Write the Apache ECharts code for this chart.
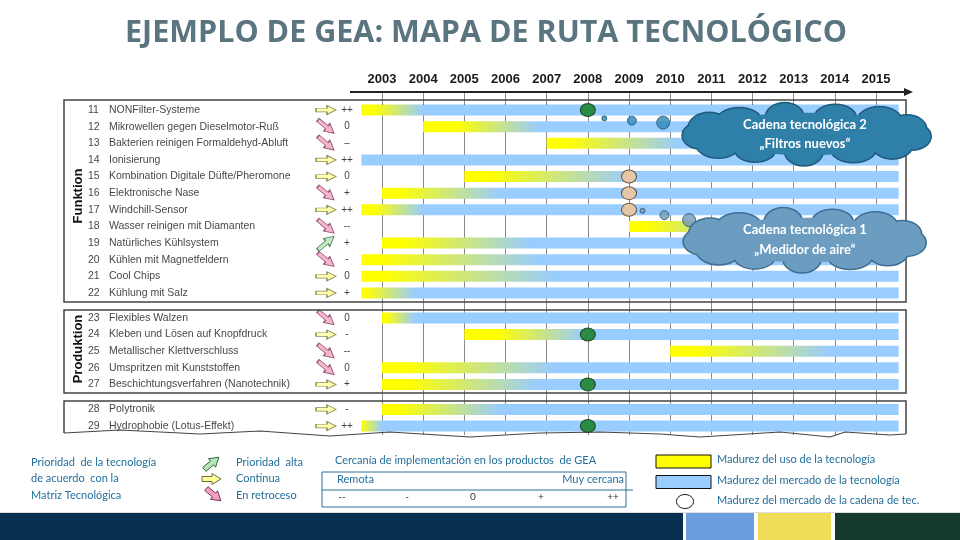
<!DOCTYPE html>
<html><head><meta charset="utf-8">
<script src="https://cdn.jsdelivr.net/npm/echarts@6/dist/echarts.min.js"></script>
<style>html,body{margin:0;padding:0;background:#fff}#c{width:960px;height:540px}</style>
</head><body><div id="c"></div><script>
// ---------- data ----------
const years = [2003,2004,2005,2006,2007,2008,2009,2010,2011,2012,2013,2014,2015];
const rowNums = [11,12,13,14,15,16,17,18,19,20,21,22,23,24,25,26,27,28,29];
const rowNames = ['NONFilter-Systeme','Mikrowellen gegen Dieselmotor-Ruß','Bakterien reinigen Formaldehyd-Abluft','Ionisierung','Kombination Digitale Düfte/Pheromone','Elektronische Nase','Windchill-Sensor','Wasser reinigen mit Diamanten','Natürliches Kühlsystem','Kühlen mit Magnetfeldern','Cool Chips','Kühlung mit Salz','Flexibles Walzen','Kleben und Lösen auf Knopfdruck','Metallischer Klettverschluss','Umspritzen mit Kunststoffen','Beschichtungsverfahren (Nanotechnik)','Polytronik','Hydrophobie (Lotus-Effekt)'];
const rowGroup = [0,0,0,0,0,0,0,0,0,0,0,0,1,1,1,1,1,2,2];
const groupNames = ['Funktion','Produktion',''];
const priority = ['cont','down','down','cont','cont','down','cont','down','up','down','cont','cont','down','cont','down','down','cont','cont','cont'];
const proximity = ['++','0','–','++','0','+','++','--','+','-','0','+','0','-','--','0','+','-','++'];
const useStart    = [2002.5,2004,2007,2002.5,2005,2003,2002.5,2009,2003,2002.5,2002.5,2002.5,2003,2005,2010,2003,2003,2003,2002.5];
const fadeStart   = [2002.8,2004.8,2007.5,2002.5,2005.6,2003.4,2002.8,2009.4,2003.5,2003.0,2003.0,2002.6,2003.1,2005.8,2010.6,2003.6,2003.6,2003.4,2002.5];
const marketStart = [2004.0,2006.8,2010.2,2002.5,2009.0,2005.9,2004.0,2012.0,2006.6,2006.8,2007.2,2003.8,2003.8,2007.9,2013.9,2007.2,2006.8,2005.9,2003.0];
const barEnd = 2015.55;
const milestoneYear = 2008;
const milestoneRows = [11,24,27,29];
const chainMarketYear = 2009;
const chainMarketRows = [15,16,17];
const chain2Years = [2008.40,2009.07,2009.83];
const chain2Rows  = [11.50,11.64,11.76];
const chain1Years = [2009.33,2009.86,2010.46];
const chain1Rows  = [17.06,17.32,17.62];
const cloudTexts = [['Cadena tecnológica 2','„Filtros nuevos“'],['Cadena tecnológica 1','„Medidor de aire“']];

// ---------- helpers ----------
const GAP = 0.5;
function rowPos(r){ const i = Math.floor(r) - rowNums[0]; return i + (r - Math.floor(r)) + GAP*rowGroup[i]; }
const YEL='#FFFF00', BLU='#99CCFF';
const chainDotSizes = [5,9,13];

const barData = rowNums.map((n,i)=>[useStart[i],fadeStart[i],marketStart[i],barEnd,rowPos(n)]);
const nameData = rowNums.map(n=>[45,rowPos(n)]);
const numData = rowNums.map(n=>[24,rowPos(n)]);
const arrowData = rowNums.map(n=>[262,rowPos(n)]);
const symData = rowNums.map(n=>[283,rowPos(n)]);

const ARROW = 'path://M0,3L11,3L11,0L20,5L11,10L11,7L0,7Z';
const arrowStyle = {
  cont:{fill:'#FFFF99',stroke:'#6E6E3A',rot:0,size:[20,9]},
  down:{fill:'#F2A2C0',stroke:'#7A3358',rot:-40,size:[21,10]},
  up:{fill:'#B7E4B9',stroke:'#2F6B3A',rot:40,size:[21,10]}
};

function cloud(cx,cy,rx,ry,n,br,fill,stroke,z){
  const els=[];
  const bumps=[];
  for(let k=0;k<n;k++){
    const a=2*Math.PI*k/n + 0.15;
    bumps.push([cx+(rx-br*1.4)*Math.cos(a), cy+(ry-br*0.95)*Math.sin(a), br*(1.45+0.25*((k%3)/2)), br*(1.0+0.12*(k%2))]);
  }
  bumps.forEach(b=>els.push({type:'ellipse',z:z,shape:{cx:b[0],cy:b[1],rx:b[2],ry:b[3]},style:{fill:fill,stroke:stroke,lineWidth:3}}));
  bumps.forEach(b=>els.push({type:'ellipse',z:z+1,shape:{cx:b[0],cy:b[1],rx:b[2],ry:b[3]},style:{fill:fill}}));
  els.push({type:'ellipse',z:z+1,shape:{cx:cx,cy:cy,rx:rx-br*1.2,ry:ry-br*0.6},style:{fill:fill}});
  return els;
}
function arrowPoly(x,y,st){
  const base=[[-10,-2.5],[0,-2.5],[0,-5.5],[9,0],[0,5.5],[0,2.5],[-10,2.5]];
  const a=-st.rot*Math.PI/180, c=Math.cos(a), s=Math.sin(a);
  return {type:'polygon',shape:{points:base.map(p=>[x+p[0]*c-p[1]*s, y+p[0]*s+p[1]*c])},style:{fill:st.fill,stroke:st.stroke,lineWidth:1}};
}

const chart = echarts.init(document.getElementById('c'),null,{renderer:'canvas'});
const textCol='#22709A';
const LF='Lato, "Open Sans", sans-serif';
const graphics = [];
// title
graphics.push({type:'text',x:486,y:33,style:{text:'EJEMPLO DE GEA: MAPA DE RUTA TECNOLÓGICO',fill:'#5B7580',font:'bold 30.5px "Open Sans"',align:'center',verticalAlign:'middle'}});
// axis line with arrow
graphics.push({type:'line',z:20,shape:{x1:350,y1:92,x2:906,y2:92},style:{stroke:'#222',lineWidth:2}});
graphics.push({type:'polygon',z:20,shape:{points:[[904,88],[913,92],[904,96]]},style:{fill:'#222'}});
// group boxes
graphics.push({type:'rect',z:10,shape:{x:64,y:100,width:842,height:202},style:{fill:null,stroke:'#444',lineWidth:1.5}});
graphics.push({type:'rect',z:10,shape:{x:64,y:310,width:842,height:83},style:{fill:null,stroke:'#444',lineWidth:1.5}});
graphics.push({type:'polyline',z:10,shape:{points:[[64,433],[64,401],[906,401],[906,434]]},style:{fill:null,stroke:'#444',lineWidth:1.5}});
// torn edge
graphics.push({type:'rect',z:11,shape:{x:60,y:435,width:850,height:10},style:{fill:'#fff'}});
graphics.push({type:'polyline',z:12,shape:{points:[[64,433],[120,430],[200,434],[260,431],[330,436],[390,432],[470,437],[540,433],[600,432],[660,434],[700,437],[780,432],[830,437],[845,432],[890,435],[906,434]]},style:{fill:null,stroke:'#444',lineWidth:1.2}});
// group titles
graphics.push({type:'text',z:12,x:78,y:196,rotation:Math.PI/2,style:{text:groupNames[0],fill:'#111',font:'bold 13px "Liberation Sans"',align:'center',verticalAlign:'middle'}});
graphics.push({type:'text',z:12,x:78,y:349,rotation:Math.PI/2,style:{text:groupNames[1],fill:'#111',font:'bold 13px "Liberation Sans"',align:'center',verticalAlign:'middle'}});
// clouds
graphics.push(...cloud(807,134,124,29,13,13,'#2F80A9','#1E5A7C',100));
graphics.push(...cloud(805,240,121,30,13,13,'#6C9DC1','#3E6F92',100));
graphics.push({type:'text',z:110,x:805,y:134,style:{text:cloudTexts[0].join('\n'),fill:'#fff',font:'bold 13px Lato',align:'center',verticalAlign:'middle',lineHeight:19}});
graphics.push({type:'text',z:110,x:805,y:240,style:{text:cloudTexts[1].join('\n'),fill:'#fff',font:'bold 13px Lato',align:'center',verticalAlign:'middle',lineHeight:20}});
// bottom legend
graphics.push({type:'text',x:31,y:454,style:{text:'Prioridad  de la tecnología\nde acuerdo  con la\nMatriz Tecnológica',fill:textCol,font:'11px '+LF,lineHeight:16.5}});
graphics.push(arrowPoly(212,463,arrowStyle.up));
graphics.push(arrowPoly(212,479,arrowStyle.cont));
graphics.push(arrowPoly(214,495,arrowStyle.down));
graphics.push({type:'text',x:236,y:454,style:{text:'Prioridad  alta\nContinua\nEn retroceso',fill:textCol,font:'11px '+LF,lineHeight:16.5}});
graphics.push({type:'text',x:335,y:455,style:{text:'Cercanía de implementación en los productos  de GEA',fill:textCol,font:'11px '+LF}});
graphics.push({type:'rect',shape:{x:322,y:472,width:304,height:35},style:{fill:null,stroke:'#2E6E94',lineWidth:1}});
graphics.push({type:'line',shape:{x1:322,y1:490,x2:633,y2:490},style:{stroke:'#2E6E94',lineWidth:1}});
graphics.push({type:'text',x:337,y:474,style:{text:'Remota',fill:textCol,font:'11px '+LF}});
graphics.push({type:'text',x:624,y:474,style:{text:'Muy cercana',fill:textCol,font:'11px '+LF,align:'right'}});
[['--',342],['-',407],['0',473],['+',541],['++',613]].forEach(t=>graphics.push({type:'text',x:t[1],y:497,style:{text:t[0],fill:'#333',font:'10px '+LF,align:'center',verticalAlign:'middle'}}));
graphics.push({type:'rect',shape:{x:656,y:455,width:55,height:13},style:{fill:'#FFFF00',stroke:'#111',lineWidth:1}});
graphics.push({type:'rect',shape:{x:656,y:475.5,width:55,height:13},style:{fill:'#99CCFF',stroke:'#111',lineWidth:1}});
graphics.push({type:'ellipse',shape:{cx:685,cy:501.5,rx:8.5,ry:7},style:{fill:'#fff',stroke:'#111',lineWidth:1}});
graphics.push({type:'text',x:717,y:454,style:{text:'Madurez del uso de la tecnología',fill:textCol,font:'11px '+LF}});
graphics.push({type:'text',x:717,y:475,style:{text:'Madurez del mercado de la tecnología',fill:textCol,font:'11px '+LF}});
graphics.push({type:'text',x:717,y:495,style:{text:'Madurez del mercado de la cadena de tec.',fill:textCol,font:'11px '+LF}});
// footer band
graphics.push({type:'line',shape:{x1:0,y1:512.5,x2:960,y2:512.5},style:{stroke:'#ddd',lineWidth:1}});
graphics.push({type:'rect',shape:{x:0,y:513,width:683,height:27},style:{fill:'#072F4F'}});
graphics.push({type:'rect',shape:{x:686,y:513,width:68,height:27},style:{fill:'#6A9EDC'}});
graphics.push({type:'rect',shape:{x:758,y:513,width:73,height:27},style:{fill:'#EFDD58'}});
graphics.push({type:'rect',shape:{x:835,y:513,width:125,height:27},style:{fill:'#173A30'}});

const yAx = {type:'value',min:-1.083,max:19.6,inverse:true,show:false};
const option = {
  backgroundColor:'#fff',
  animation:false,
  grid:[
    {left:382,right:84,top:92,bottom:104},
    {left:64,right:610,top:92,bottom:104}
  ],
  xAxis:[
    {type:'value',gridIndex:0,position:'top',min:years[0],max:years[years.length-1],interval:1,
     axisLine:{show:false},axisTick:{show:true,length:6,lineStyle:{color:'#333'}},
     axisLabel:{margin:6,color:'#1a1a1a',fontWeight:'bold',fontSize:13,fontFamily:'Liberation Sans',formatter:v=>String(v)},
     splitLine:{show:true,lineStyle:{color:'#8a8a8a',width:1}}},
    {type:'value',gridIndex:1,min:0,max:286,show:false}
  ],
  yAxis:[Object.assign({gridIndex:0},yAx),Object.assign({gridIndex:1},yAx)],
  graphic:{elements:graphics},
  series:[
    {type:'custom',xAxisIndex:0,yAxisIndex:0,clip:false,z:3,data:barData,
     renderItem:function(params,api){
       const s=api.value(0),f=api.value(1),b=api.value(2),e=api.value(3),u=api.value(4);
       const p0=api.coord([s,u]),p1=api.coord([e,u]);
       const h=11, w=p1[0]-p0[0];
       let fill;
       if(b<=s) fill=BLU;
       else fill=new echarts.graphic.LinearGradient(0,0,1,0,[
         {offset:0,color:YEL},{offset:(f-s)/(e-s),color:YEL},{offset:(b-s)/(e-s),color:BLU},{offset:1,color:BLU}]);
       return {type:'rect',shape:{x:p0[0],y:p0[1]-h/2,width:w,height:h},style:{fill:fill}};
     }},
    {type:'scatter',xAxisIndex:0,yAxisIndex:0,z:5,symbol:'circle',symbolSize:[15,13],
     itemStyle:{color:'#0E7A16',borderColor:'#10300F',borderWidth:1},
     data:milestoneRows.map(r=>[milestoneYear,rowPos(r)])},
    {type:'scatter',xAxisIndex:0,yAxisIndex:0,z:5,symbol:'circle',symbolSize:[15,13],
     itemStyle:{color:'#F9C490',borderColor:'#4A3A2A',borderWidth:1},
     data:chainMarketRows.map(r=>[chainMarketYear,rowPos(r)])},
    {type:'scatter',xAxisIndex:0,yAxisIndex:0,z:5,symbol:'circle',
     symbolSize:(v,p)=>chainDotSizes[p.dataIndex],
     itemStyle:{color:'#2E86B5',borderColor:'#1D5676',borderWidth:1},
     data:chain2Years.map((y,i)=>[y,rowPos(chain2Rows[i])])},
    {type:'scatter',xAxisIndex:0,yAxisIndex:0,z:5,symbol:'circle',
     symbolSize:(v,p)=>chainDotSizes[p.dataIndex],
     itemStyle:{color:'#6E98B8',borderColor:'#2E4E66',borderWidth:1},
     data:chain1Years.map((y,i)=>[y,rowPos(chain1Rows[i])])},
    {type:'scatter',xAxisIndex:1,yAxisIndex:1,symbolSize:0,z:6,data:numData,
     label:{show:true,position:'right',distance:0,color:'#111',fontSize:10.5,fontFamily:'Liberation Sans',formatter:p=>String(rowNums[p.dataIndex])}},
    {type:'scatter',xAxisIndex:1,yAxisIndex:1,symbolSize:0,z:6,data:nameData,
     label:{show:true,position:'right',distance:0,color:'#111',fontSize:10.5,fontFamily:'Liberation Sans',formatter:p=>rowNames[p.dataIndex]}},
    {type:'scatter',xAxisIndex:1,yAxisIndex:1,z:6,symbol:ARROW,data:arrowData.map((d,i)=>{
       const st=arrowStyle[priority[i]];
       return {value:d,symbolRotate:st.rot,symbolSize:st.size,itemStyle:{color:st.fill,borderColor:st.stroke,borderWidth:1}};
     })},
    {type:'scatter',xAxisIndex:1,yAxisIndex:1,symbolSize:0,z:6,data:symData,
     label:{show:true,position:'inside',color:'#111',fontSize:10,fontFamily:'Liberation Sans',formatter:p=>proximity[p.dataIndex]}}
  ]
};
chart.setOption(option);
</script></body></html>
